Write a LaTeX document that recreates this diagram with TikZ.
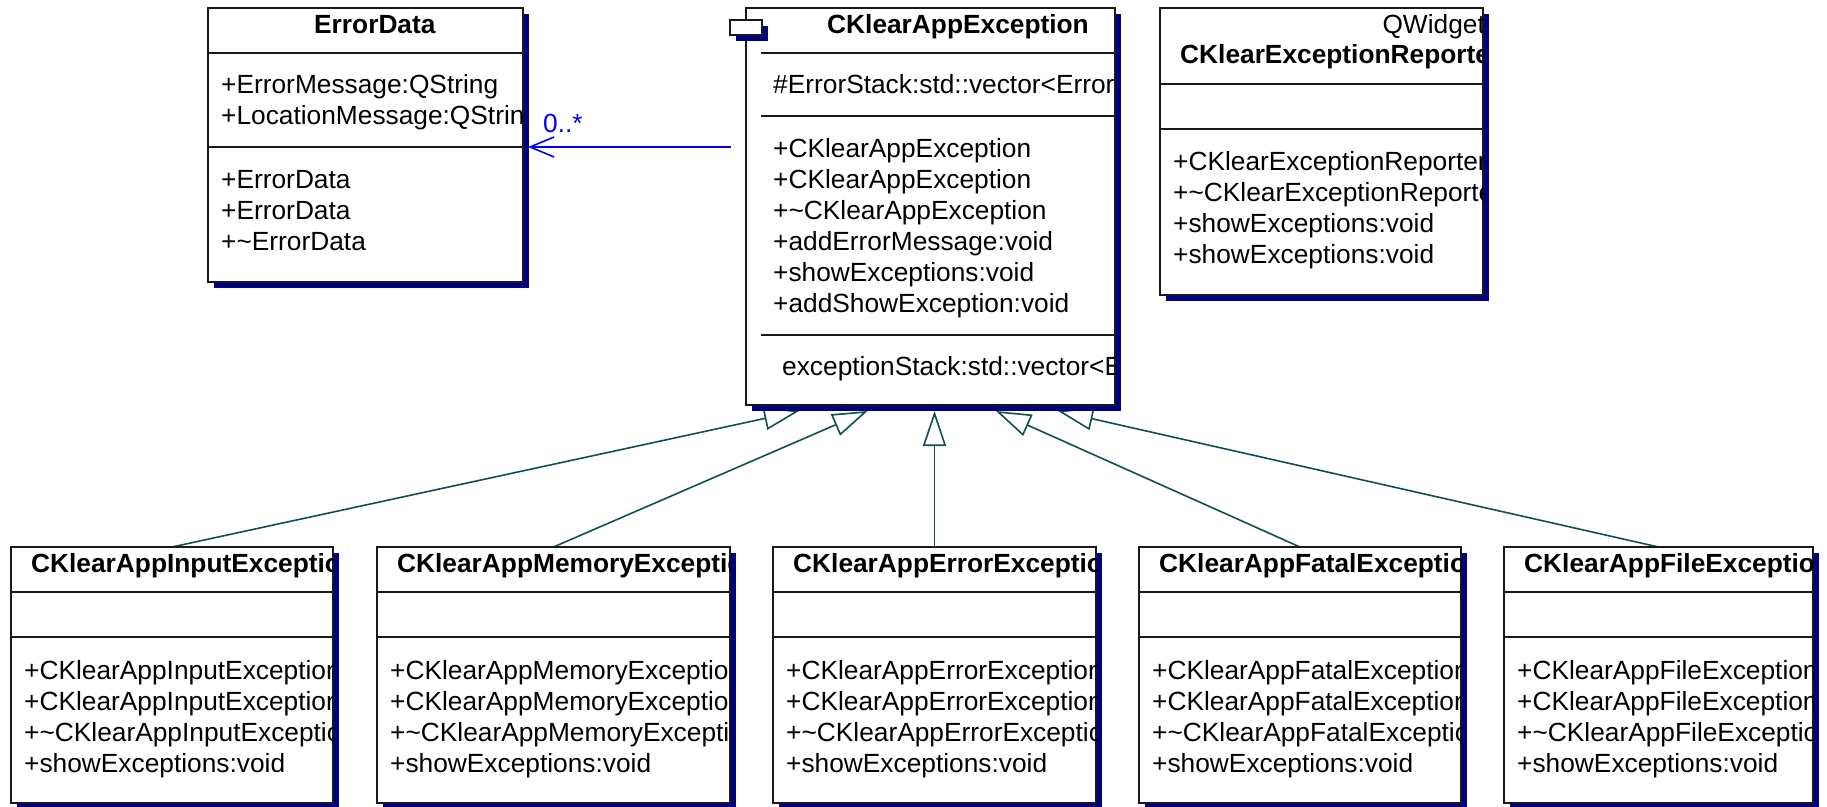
\documentclass[tikz,border=0pt]{standalone}
\usepackage{fontspec}
\setmainfont{Liberation Sans}
\usetikzlibrary{arrows.meta,shadows}

\definecolor{shadowblue}{RGB}{0,0,128}
\definecolor{genteal}{RGB}{16,80,80}
\definecolor{assocblue}{RGB}{0,0,255}
\definecolor{framegray}{RGB}{25,25,25}

\pgfdeclarelayer{paper}
\pgfdeclarelayer{links}
\pgfsetlayers{paper,links,main}

\tikzset{
  classbox/.style={draw=framegray, line width=1.5pt, fill=white, inner sep=0pt,
    outer sep=0pt, anchor=north west,
    drop shadow={shadow xshift=6pt, shadow yshift=-6pt, fill=shadowblue, opacity=1}},
  member/.style={anchor=base west, inner sep=0pt, font=\fontsize{26.3}{31}\selectfont},
  classname/.style={member, font=\fontsize{26.3}{31}\selectfont\bfseries},
  divider/.style={draw=framegray, line width=1.5pt},
  generalization/.style={draw=genteal, line width=1.6pt,
    -{Triangle[open, length=35pt, width=23pt]}},
  association/.style={draw=assocblue, line width=1.6pt,
    -{Straight Barb[length=24pt, width=20pt]}},
}

% class frame: name, left, top, right, bottom (pixel-like units, y downwards)
\newcommand{\umlclass}[5]{%
  \node[classbox, minimum width={(#4-#2)*1pt}, minimum height={(#5-#3)*1pt}] (#1) at (#2,#3) {};
}

\begin{document}
\begin{tikzpicture}[x=1pt, y=-1pt]
\useasboundingbox (0,0) rectangle (1827,806);
\begin{pgfonlayer}{paper}
  \fill[white] (0,0) rectangle (1827,806);
\end{pgfonlayer}

% ---------------- ErrorData ----------------
\umlclass{errordata}{208}{8}{523}{282}
\begin{scope}
  \clip (errordata.north west) rectangle (errordata.south east);
  \node[classname] (ed-name) at (314,33) {ErrorData};
  \draw[divider] (208,53) -- (523,53);
  \node[member] (ed-a1) at (221,93) {+ErrorMessage:QString};
  \node[member] (ed-a2) at (221,124) {+LocationMessage:QStrin};
  \draw[divider] (208,147) -- (523,147);
  \node[member] (ed-m1) at (221,188) {+ErrorData};
  \node[member] (ed-m2) at (221,219) {+ErrorData};
  \node[member] (ed-m3) at (221,250) {+\textasciitilde ErrorData};
\end{scope}

% ---------------- CKlearAppException ----------------
\umlclass{appexc}{746}{8}{1115}{405}
\node[classbox, minimum width=32pt, minimum height=15pt] (ca-icon) at (730,20) {};
\begin{scope}
  \clip (appexc.north west) rectangle (appexc.south east);
  \node[classname] (ca-name) at (827,33) {CKlearAppException};
  \draw[divider] (761,53) -- (1115,53);
  \node[member] (ca-a1) at (773,93) {\#ErrorStack:std::vector<Error};
  \draw[divider] (761,116) -- (1115,116);
  \node[member] (ca-m1) at (773,157) {+CKlearAppException};
  \node[member] (ca-m2) at (773,188) {+CKlearAppException};
  \node[member] (ca-m3) at (773,219) {+\textasciitilde CKlearAppException};
  \node[member] (ca-m4) at (773,250) {+addErrorMessage:void};
  \node[member] (ca-m5) at (773,281) {+showExceptions:void};
  \node[member] (ca-m6) at (773,312) {+addShowException:void};
  \draw[divider] (761,335) -- (1115,335);
  \node[member] (ca-a2) at (782,375) {exceptionStack:std::vector<E};
\end{scope}

% ---------------- CKlearExceptionReporter ----------------
\umlclass{reporter}{1160}{8}{1483}{295}
\begin{scope}
  \clip (reporter.north west) rectangle (reporter.south east);
  \node[member, anchor=base east] (rp-base) at (1485,33) {QWidget};
  \node[classname] (rp-name) at (1180,63) {CKlearExceptionReporte};
  \draw[divider] (1160,84) -- (1483,84);
  \draw[divider] (1160,129) -- (1483,129);
  \node[member] (rp-m1) at (1173,170) {+CKlearExceptionReporter};
  \node[member] (rp-m2) at (1173,201) {+\textasciitilde CKlearExceptionReporte};
  \node[member] (rp-m3) at (1173,232) {+showExceptions:void};
  \node[member] (rp-m4) at (1173,263) {+showExceptions:void};
\end{scope}

% ---------------- derived exception classes ----------------
% name, left, right, title, ctor, dtor
\newcommand{\derivedclass}[6]{%
  \umlclass{#1}{#2}{547}{#3}{803}
  \begin{scope}
    \clip (#1.north west) rectangle (#1.south east);
    \node[classname] (#1-name) at (#2+20,572) {#4};
    \draw[divider] (#2,592) -- (#3,592);
    \draw[divider] (#2,637) -- (#3,637);
    \node[member] (#1-m1) at (#2+13,679) {#5};
    \node[member] (#1-m2) at (#2+13,710) {#5};
    \node[member] (#1-m3) at (#2+13,741) {#6};
    \node[member] (#1-m4) at (#2+13,772) {+showExceptions:void};
  \end{scope}
}
\derivedclass{inputexc}{11}{333}{CKlearAppInputExceptio}{+CKlearAppInputException}{+\textasciitilde CKlearAppInputExceptio}
\derivedclass{memexc}{377}{730}{CKlearAppMemoryExceptio}{+CKlearAppMemoryExceptio}{+\textasciitilde CKlearAppMemoryExcepti}
\derivedclass{errexc}{773}{1096}{CKlearAppErrorExceptio}{+CKlearAppErrorException}{+\textasciitilde CKlearAppErrorExceptio}
\derivedclass{fatalexc}{1139}{1461}{CKlearAppFatalExceptio}{+CKlearAppFatalException}{+\textasciitilde CKlearAppFatalExceptio}
\derivedclass{fileexc}{1504}{1813}{CKlearAppFileExceptio}{+CKlearAppFileException}{+\textasciitilde CKlearAppFileExceptio}

% ---------------- relations ----------------
\coordinate (tip-input) at (799,411);
\coordinate (tip-mem)   at (867.5,411);
\coordinate (tip-err)   at (934.5,411);
\coordinate (tip-fatal) at (996,411);
\coordinate (tip-file)  at (1058,411);
\coordinate (assoc-from) at (731,147);
\coordinate (assoc-to)   at (528,147);

\begin{pgfonlayer}{links}
  \draw[generalization] (inputexc.north) -- (tip-input);
  \draw[generalization] (memexc.north)   -- (tip-mem);
  \draw[generalization] (errexc.north)   -- (tip-err);
  \draw[generalization] (fatalexc.north) -- (tip-fatal);
  \draw[generalization] (fileexc.north)  -- (tip-file);
  \draw[association] (assoc-from) -- (assoc-to);
\end{pgfonlayer}
\node[member, text=assocblue] (mult) at (543,132) {0..*};

\end{tikzpicture}
\end{document}
